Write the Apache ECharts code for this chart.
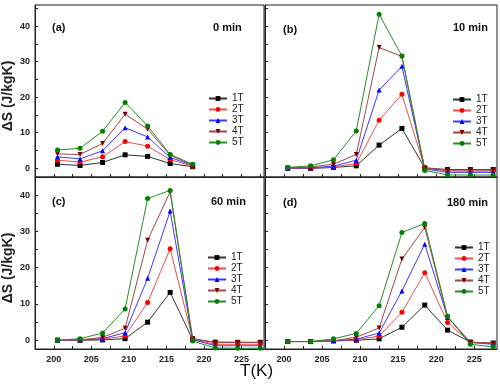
<!DOCTYPE html>
<html>
<head>
<meta charset="utf-8">
<script src="https://cdn.jsdelivr.net/npm/echarts@6/dist/echarts.min.js"></script>
<style>html,body{margin:0;padding:0;background:#fff}#c{width:500px;height:385px}</style>
</head>
<body>
<div id="c"></div>
<script>
// ---- data ----
const temps = [200.5, 203.5, 206.5, 209.5, 212.5, 215.5, 218.5, 221.5, 224.5, 227.5];
const tempsA = [200.5, 203.5, 206.5, 209.5, 212.5, 215.5, 218.5];
const fields = ['1T', '2T', '3T', '4T', '5T'];
const panelLabels = ['(a)', '(b)', '(c)', '(d)'];
const panelTimes = ['0 min', '10 min', '60 min', '180 min'];
const xTickLabels = [200, 205, 210, 215, 220, 225];
const xTicks = [200, 202.5, 205, 207.5, 210, 212.5, 215, 217.5, 220, 222.5, 225, 227.5];
const yTickLabels = [0, 10, 20, 30, 40];
const yTicks = [0, 5, 10, 15, 20, 25, 30, 35, 40, 45];

// (a) 0 min
const a1 = [1.1, 0.75, 1.6, 3.75, 3.3, 1.3, 0.4];
const a2 = [2.25, 1.7, 3.2, 7.5, 6.2, 2.4, 0.55];
const a3 = [3.2, 2.6, 4.9, 11.4, 8.8, 3.0, 0.75];
const a4 = [4.0, 3.85, 6.95, 15.2, 11.0, 3.6, 0.9];
const a5 = [5.1, 5.6, 10.4, 18.5, 11.9, 3.85, 1.1];
// (b) 10 min
const b1 = [0, -0.1, 0.2, 0.65, 6.5, 11.2, 0.1, -0.4, -0.4, -0.4];
const b2 = [0, 0, 0.35, 1.3, 13.5, 20.8, 0.05, -0.8, -0.85, -0.85];
const b3 = [0, 0.1, 0.55, 2.25, 22.0, 28.7, -0.2, -1.2, -1.2, -1.2];
const b4 = [0, 0.35, 1.1, 3.85, 34.0, 31.5, -0.1, -0.55, -0.55, -0.55];
const b5 = [0.2, 0.65, 2.35, 10.5, 43.4, 31.6, -0.65, -1.9, -1.95, -1.95];
// (c) 60 min
const c1 = [0, 0, 0.1, 0.45, 5.0, 13.2, 0.2, -0.5, -0.55, -0.55];
const c2 = [0, 0, 0.3, 1.2, 10.4, 25.2, 0.3, -1.1, -1.1, -1.1];
const c3 = [0, 0.1, 0.45, 2.1, 17.1, 35.6, 0.2, -1.5, -1.5, -1.5];
const c4 = [0, 0.1, 0.8, 3.3, 27.6, 40.9, 0.5, -0.6, -0.6, -0.6];
const c5 = [0, 0.45, 2.0, 8.6, 39.1, 41.3, -0.2, -2.1, -2.2, -2.2];
// (d) 180 min
const d1 = [-0.35, -0.35, -0.15, 0, 0.4, 3.6, 9.7, 2.8, -0.5, -0.75];
const d2 = [-0.35, -0.35, -0.15, 0.1, 1.2, 7.7, 18.6, 4.9, -0.6, -0.85];
const d3 = [-0.35, -0.35, -0.15, 0.3, 2.0, 13.6, 26.5, 6.3, -0.6, -1.1];
const d4 = [-0.35, -0.35, -0.15, 0.85, 3.4, 22.4, 31.1, 6.4, -0.55, -0.9];
const d5 = [-0.35, -0.35, 0.4, 1.9, 9.5, 29.7, 32.2, 6.6, -1.1, -1.8];

const panels = [
  { x: tempsA, ys: [a1, a2, a3, a4, a5] },
  { x: temps, ys: [b1, b2, b3, b4, b5] },
  { x: temps, ys: [c1, c2, c3, c4, c5] },
  { x: temps, ys: [d1, d2, d3, d4, d5] }
];

// ---- styles ----
const FONT = 'Liberation Sans';
const markerColors = ['#000000', '#ff0000', '#0000ff', '#7a0000', '#008000'];
const lineColors = ['#333333', '#e85050', '#3a3aff', '#a04848', '#2a8a2a'];
const symbols = ['rect', 'circle', 'triangle', 'path://M0,0 L10,0 L5,9 Z', 'circle'];
const grids = [
  { left: 35, top: 5, width: 229, height: 172 },
  { left: 265, top: 5, width: 232, height: 172 },
  { left: 35, top: 177, width: 229, height: 172 },
  { left: 265, top: 177, width: 232, height: 172 }
];
const yRanges = [[-2.5, 46], [-2.5, 46], [-2.4, 45], [-2.4, 45]];
const legendPos = [
  { left: 208, top: 93 }, { left: 452, top: 94 },
  { left: 207, top: 252 }, { left: 454, top: 242 }
];
const labelPos = [
  { l: [52, 22], t: [213, 22] }, { l: [283, 24], t: [453, 22] },
  { l: [52, 196], t: [211, 196] }, { l: [283, 197], t: [447, 197] }
];

const option = {
  animation: false,
  backgroundColor: '#fff',
  textStyle: { fontFamily: FONT },
  grid: grids.map(g => Object.assign({ show: true, borderColor: '#222', borderWidth: 1, backgroundColor: 'transparent' }, g)),
  xAxis: grids.map((g, i) => ({
    type: 'value', gridIndex: i, min: 197.5, max: 228,
    axisLine: { show: true, onZero: false, lineStyle: { color: '#222', width: 1 } },
    axisTick: { show: true, inside: true, length: 3, customValues: xTicks, lineStyle: { color: '#222' } },
    axisLabel: { show: i >= 2, customValues: xTickLabels, fontFamily: FONT, fontWeight: 'bold', fontSize: 9, color: '#222', margin: 6 },
    splitLine: { show: false }
  })),
  yAxis: grids.map((g, i) => ({
    type: 'value', gridIndex: i, min: yRanges[i][0], max: yRanges[i][1],
    name: (i % 2 === 0) ? 'ΔS (J/kgK)' : '',
    nameLocation: 'middle', nameGap: 20,
    nameTextStyle: { fontFamily: FONT, fontWeight: 'bold', fontSize: 14, color: '#222', padding: [0, 0, 0, -10] },
    axisLine: { show: true, onZero: false, lineStyle: { color: '#222', width: 1 } },
    axisTick: { show: true, inside: true, length: 3, customValues: yTicks, lineStyle: { color: '#222' } },
    axisLabel: { show: i % 2 === 0, customValues: yTickLabels, fontFamily: FONT, fontWeight: 'bold', fontSize: 9, color: '#222', margin: 5 },
    splitLine: { show: false }
  })),
  legend: legendPos.map(p => ({
    left: p.left, top: p.top, orient: 'vertical', data: fields,
    itemWidth: 18, itemHeight: 6, itemGap: 0, padding: 0,
    textStyle: { fontFamily: FONT, fontSize: 10, color: '#222', lineHeight: 11 },
    selectedMode: false
  })),
  title: [],
  series: []
};

panels.forEach((p, pi) => {
  p.ys.forEach((ys, si) => {
    option.series.push({
      type: 'line', name: fields[si], xAxisIndex: pi, yAxisIndex: pi,
      data: p.x.map((x, k) => [x, ys[k]]),
      symbol: symbols[si], symbolSize: 5, showSymbol: true,
      itemStyle: { color: markerColors[si] },
      lineStyle: { color: lineColors[si], width: 1 },
      z: 2 + si
    });
  });
  option.title.push({ text: panelLabels[pi], left: labelPos[pi].l[0], top: labelPos[pi].l[1], padding: 0,
    textStyle: { fontFamily: FONT, fontSize: 11, fontWeight: 'bold', color: '#111' } });
  option.title.push({ text: panelTimes[pi], left: labelPos[pi].t[0], top: labelPos[pi].t[1], padding: 0,
    textStyle: { fontFamily: FONT, fontSize: 11, fontWeight: 'bold', color: '#111' } });
});
option.title.push({ text: 'T(K)', left: 240, top: 363, padding: 0,
  textStyle: { fontFamily: FONT, fontSize: 17, fontWeight: 'normal', color: '#111' } });

const chart = echarts.init(document.getElementById('c'), null, { renderer: 'canvas' });
chart.setOption(option);
</script>
</body>
</html>
